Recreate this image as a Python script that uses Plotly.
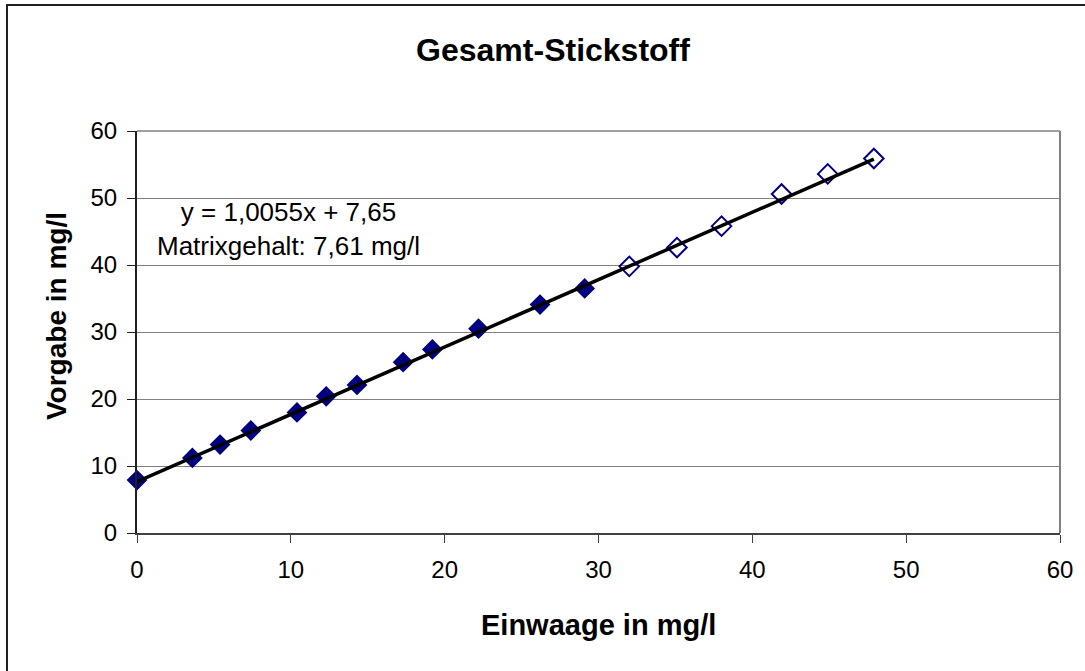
import plotly.graph_objects as go

# Messwerte (gefuellt = Kalibrierung, offen = Aufstockung)
x_filled = [0, 3.6, 5.4, 7.4, 10.4, 12.3, 14.3, 17.3, 19.2, 22.2, 26.2, 29.1]
y_filled = [7.9, 11.2, 13.2, 15.3, 18.0, 20.4, 22.1, 25.5, 27.4, 30.5, 34.1, 36.5]
x_open = [32.0, 35.1, 38.0, 41.9, 44.9, 47.9]
y_open = [39.8, 42.6, 45.8, 50.6, 53.6, 55.9]

# Trendlinie laut Gleichung
slope = 1.0055
intercept = 7.65
x_trend = [min(x_filled), max(x_open)]
y_trend = [slope * v + intercept for v in x_trend]

FONT = "Liberation Sans, Arial, sans-serif"
NAVY = "#000080"

fig = go.Figure()
fig.add_trace(go.Scatter(x=x_filled, y=y_filled, mode="markers", cliponaxis=False,
                         marker=dict(symbol="diamond", size=16, color=NAVY),
                         showlegend=False))
fig.add_trace(go.Scatter(x=x_open, y=y_open, mode="markers", cliponaxis=False,
                         marker=dict(symbol="diamond-open", size=15, color=NAVY,
                                     line=dict(width=2, color=NAVY)),
                         showlegend=False))
fig.add_trace(go.Scatter(x=x_trend, y=y_trend, mode="lines",
                         line=dict(color="black", width=3.5),
                         showlegend=False))

fig.update_layout(
    width=1085, height=671, autosize=False,
    margin=dict(l=137, r=25, t=131, b=138),
    paper_bgcolor="white", plot_bgcolor="white",
    font=dict(family=FONT, color="black", size=24),
    title=dict(text="<b>Gesamt-Stickstoff</b>", x=553 / 1085, xanchor="center",
               y=1 - 50 / 671, yanchor="middle",
               font=dict(size=32, family=FONT, color="black")),
    xaxis=dict(range=[0, 60], dtick=10, showgrid=False, zeroline=False,
               showline=True, linecolor="#404040", linewidth=2,
               ticks="outside", ticklen=8, tickcolor="#404040",
               ticklabelstandoff=6, tickfont=dict(size=24)),
    yaxis=dict(range=[0, 60], dtick=10, showgrid=True, gridcolor="#808080",
               gridwidth=1, zeroline=False,
               showline=True, linecolor="#202020", linewidth=2,
               ticks="outside", ticklen=8, tickcolor="#202020",
               ticklabelstandoff=5, tickfont=dict(size=24)),
    shapes=[
        # rechter und oberer Rand der Zeichenflaeche
        dict(type="line", xref="paper", yref="paper", x0=1, x1=1, y0=0, y1=1,
             line=dict(color="#808080", width=2), layer="below"),
        dict(type="line", xref="paper", yref="paper", x0=0, x1=1, y0=1, y1=1,
             line=dict(color="#808080", width=1.5), layer="below"),
        # aeusserer Diagrammrahmen
        dict(type="rect", xref="paper", yref="paper",
             x0=(7 - 137) / 923, x1=(1100 - 137) / 923,
             y0=(533 - 690) / 402, y1=(533 - 5) / 402,
             line=dict(color="#202020", width=2)),
    ],
    annotations=[
        dict(text="y = 1,0055x + 7,65<br>Matrixgehalt: 7,61 mg/l",
             xref="paper", yref="paper", x=(288 - 137) / 923, y=(533 - 229) / 402,
             xanchor="center", yanchor="middle", showarrow=False, align="center",
             font=dict(size=26, family=FONT, color="black")),
        dict(text="<b>Einwaage in mg/l</b>", xref="paper", yref="paper",
             x=0.5, y=(533 - 625) / 402, xanchor="center", yanchor="middle",
             showarrow=False, font=dict(size=29, family=FONT, color="black")),
        dict(text="<b>Vorgabe in mg/l</b>", xref="paper", yref="paper",
             x=(56 - 137) / 923, y=(533 - 316) / 402, xanchor="center",
             yanchor="middle", textangle=-90, showarrow=False,
             font=dict(size=28, family=FONT, color="black")),
    ],
)

# Seitenrand des Browsers entfernen, damit die Grafik bei (0,0) beginnt
fig.write_html("out.html", config={"displayModeBar": False},
               post_script="document.body.style.margin='0';")
